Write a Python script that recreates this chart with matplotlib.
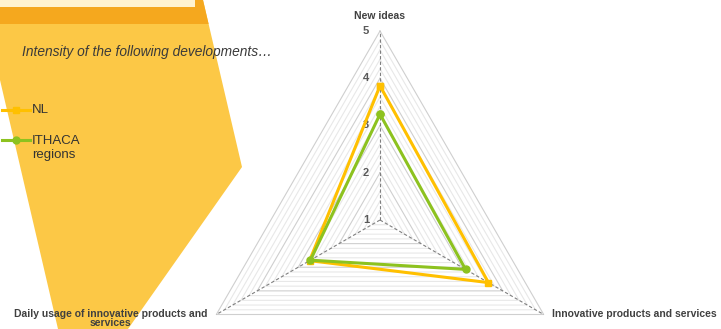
import numpy as np
import matplotlib
matplotlib.use('Agg')
import matplotlib.pyplot as plt
from matplotlib.patches import Polygon, Rectangle

plt.rcParams['font.family'] = ['Liberation Sans', 'DejaVu Sans']

# data (scale 1-5)
CATEGORIES = ['New ideas', 'Innovative products and services',
              'Daily usage of innovative products and\nservices']
NL = [3.84, 3.65, 2.72]
ITHACA = [3.24, 3.09, 2.70]
SERIES = ['NL', 'ITHACA\nregions']
TICKS = [1, 2, 3, 4, 5]

C_NL = '#FFC000'
C_IT = '#8DC21F'
W, H = 721, 329

fig = plt.figure(figsize=(W / 100, H / 100), dpi=100)

# ── background decoration (pixel coords) ───────────────────────────────
bg = fig.add_axes([0, 0, 1, 1])
bg.set_xlim(0, W)
bg.set_ylim(H, 0)
bg.axis('off')
bg.add_patch(Polygon([(0, 0), (203, 0), (242, 167), (128, 329), (58, 329), (0, 80)],
                     closed=True, fc='#FCC846', ec='none'))
bg.add_patch(Polygon([(0, 0), (203, 0), (208.6, 24), (0, 24)],
                     closed=True, fc='#F5A81E', ec='none'))
bg.add_patch(Rectangle((0, 0), 195, 7, fc='#FFF3CF', ec='none'))

bg.text(22, 52, 'Intensity of the following developments…', style='italic',
        fontsize=9.9, color='#3A3A3A', va='center', ha='left')

# legend
bg.plot([2, 30], [110, 110], color=C_NL, lw=2.2)
bg.plot([16], [110], marker='s', ms=4.5, color=C_NL)
bg.text(32, 110, SERIES[0], fontsize=9.5, color='#333333', va='center')
bg.plot([2, 30], [140, 140], color=C_IT, lw=2.2)
bg.plot([16], [140], marker='o', ms=5, color=C_IT)
bg.text(32, 148, SERIES[1], fontsize=9.5, color='#333333', va='center',
        linespacing=1.3)

# ── radar ──────────────────────────────────────────────────────────────
cx, cy, R = 380, 220, 189
ax = fig.add_axes([(cx - R) / W, (H - cy - R) / H, 2 * R / W, 2 * R / H],
                  projection='polar')
ax.set_theta_offset(np.pi / 2)
ax.set_theta_direction(-1)
ax.set_rlim(1, 5)
ax.grid(False)
ax.set_xticks([])
ax.set_yticks([])
ax.spines['polar'].set_visible(False)
ax.patch.set_alpha(0)

n = len(CATEGORIES)
theta = np.arange(n) * 2 * np.pi / n
th_closed = np.append(theta, theta[0])

# polygon gridlines
for r in np.arange(1.2, 5.01, 0.2):
    major = abs(r - round(r)) < 1e-6
    ax.plot(th_closed, [r] * (n + 1), color='#CFCFCF' if major else '#E8E8E8',
            lw=0.8, zorder=1, clip_on=False)
# spokes
for t in theta:
    ax.plot([t, t], [1, 5], color='#7F7F7F', lw=0.8, ls=(0, (3, 2)), zorder=2,
            clip_on=False)

ax.plot(th_closed, NL + NL[:1], color=C_NL, lw=2.2, marker='s', ms=4.5,
        zorder=4, clip_on=False)
ax.plot(th_closed, ITHACA + ITHACA[:1], color=C_IT, lw=2.2, marker='o', ms=5,
        zorder=5, clip_on=False)

# tick labels along the top spoke
for v in TICKS:
    ax.annotate(str(v), xy=(0, v), xytext=(-10, 0), textcoords='offset points',
                ha='center', va='center', fontsize=8, fontweight='bold',
                color='#595959', annotation_clip=False)

# category labels
ax.annotate(CATEGORIES[0], xy=(theta[0], 5), xytext=(0, 11),
            textcoords='offset points', ha='center', va='center',
            fontsize=7.5, fontweight='bold', color='#404040', annotation_clip=False)
ax.annotate(CATEGORIES[1], xy=(theta[1], 5), xytext=(6, 0),
            textcoords='offset points', ha='left', va='center',
            fontsize=7.5, fontweight='bold', color='#404040', annotation_clip=False)
ax.annotate(CATEGORIES[2], xy=(theta[2], 5), xytext=(-76, -3),
            textcoords='offset points', ha='center', va='center',
            fontsize=7.5, fontweight='bold', color='#404040', annotation_clip=False,
            linespacing=0.95)

fig.savefig('out.png', dpi=100)
plt.close(fig)
